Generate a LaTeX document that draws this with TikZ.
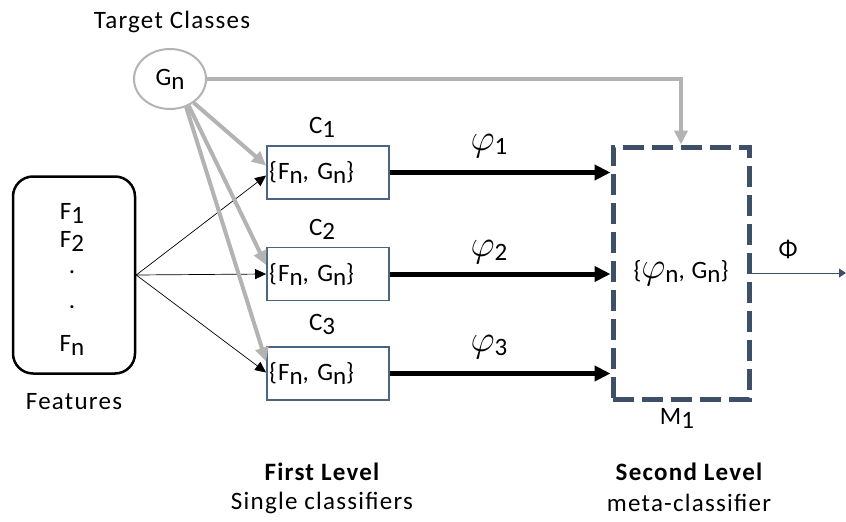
\RequirePackage{fix-cm}
\documentclass[tikz,border=0pt]{standalone}
\usepackage{fontspec}
\setmainfont{Carlito}[LetterSpace=5]
\usetikzlibrary{arrows.meta,calc,shapes.geometric}
\definecolor{slate}{HTML}{3E5068}
\definecolor{boxblue}{HTML}{4A6582}
\definecolor{lgray}{HTML}{B3B3B3}
\newcommand\sbs[1]{\raisebox{-0.16em}{#1}}
\newcommand\vphi{\scalebox{1.5}{$\varphi$}}
\begin{document}
\begin{tikzpicture}[x=1pt,y=-1pt,
  font=\fontsize{25}{29}\selectfont,
  txt/.style={inner sep=0pt},
  cbox/.style={draw=boxblue, line width=1.8pt, minimum width=122pt, minimum height=53pt,
    text width=118pt, align=left, inner sep=1pt},
  grayarrow/.style={draw=lgray, line width=4pt, -{Triangle[length=14pt,width=13pt]}},
  thinarrow/.style={draw=black, line width=0.7pt, -{Triangle[length=11pt,width=10pt]}},
  thickarrow/.style={draw=black, line width=5pt, -{Triangle[length=16pt,width=15pt]}},
  outarrow/.style={draw=slate, line width=1pt, -{Triangle[length=7pt,width=9pt]}}
]
\useasboundingbox (0,0) rectangle (846,522);

% Target classes
\node[txt] (tc) at (172,22) {Target Classes};
\node[ellipse, draw=lgray, line width=2pt, minimum width=72pt, minimum height=60pt, inner sep=0pt] (g) at (170,79) {G\sbs{n}};

% Features
\node[draw, line width=2.5pt, rounded corners=20pt, minimum width=122pt, minimum height=197pt] (feat) at (74,275) {};
\node[txt] (f1) at (72,213) {F\sbs{1}};
\node[txt] (f2) at (72,241) {F\sbs{2}};
\node[txt] (d1) at (72,272) {.};
\node[txt] (d2) at (72,307) {.};
\node[txt] (fn) at (72,345) {F\sbs{n}};
\node[txt] (featl) at (74,402) {Features};
\coordinate (fan) at (feat.east);

% First level classifiers
\node[cbox] (c1) at (328,172.5) {\{F\sbs{n}, G\sbs{n}\}};
\node[cbox] (c2) at (328,274) {\{F\sbs{n}, G\sbs{n}\}};
\node[cbox] (c3) at (328,373.5) {\{F\sbs{n}, G\sbs{n}\}};
\node[txt] (c1l) at (322,127) {C\sbs{1}};
\node[txt] (c2l) at (322,229) {C\sbs{2}};
\node[txt] (c3l) at (322,324) {C\sbs{3}};

% Meta classifier
\node[draw=slate, line width=5pt, dash pattern=on 21pt off 8pt, minimum width=136pt, minimum height=252pt, inner sep=0pt] (m) at (681,273) {\{\vphi\sbs{n}, G\sbs{n}\}};
\node[txt] (ml) at (677,418) {M\sbs{1}};
\node[txt] (phi) at (788,249) {Φ};
\coordinate (out) at (846,273);

% phi labels
\node[txt] (p1) at (489,146) {\vphi\sbs{1}};
\node[txt] (p2) at (489,252) {\vphi\sbs{2}};
\node[txt] (p3) at (489,347) {\vphi\sbs{3}};

% Bottom labels
\node[txt, font=\fontsize{25}{29}\selectfont\bfseries] (fl) at (322,472) {First Level};
\node[txt] (sc) at (322,503) {Single classifiers};
\node[txt, font=\fontsize{25}{29}\selectfont\bfseries] (sl) at (689,472) {Second Level};
\node[txt] (mc) at (689,503) {meta-classifier};

% Connectors: features to classifiers
\draw[thinarrow] (fan) -- ($(c1.west)+(0,3)$);
\draw[thinarrow] (fan) -- (c2.west);
\draw[thinarrow] (fan) -- ($(c3.west)+(0,-1)$);

% Gray arrows
\draw[grayarrow] (g.-45) -- ($(c1.west)+(0,-7)$);
\draw[grayarrow] (g.-55) -- ($(c2.west)+(0,-9)$);
\draw[grayarrow] (g.-60) -- ($(c3.west)+(0,-12)$);
\draw[grayarrow] (g.east) -| (m.north);

% Thick arrows
\draw[thickarrow] (c1.east) -- (c1.east -| m.west);
\draw[thickarrow] (c2.east) -- (c2.east -| m.west);
\draw[thickarrow] (c3.east) -- (c3.east -| m.west);

% Output
\draw[outarrow] (m.east) -- (out);
\end{tikzpicture}
\end{document}
